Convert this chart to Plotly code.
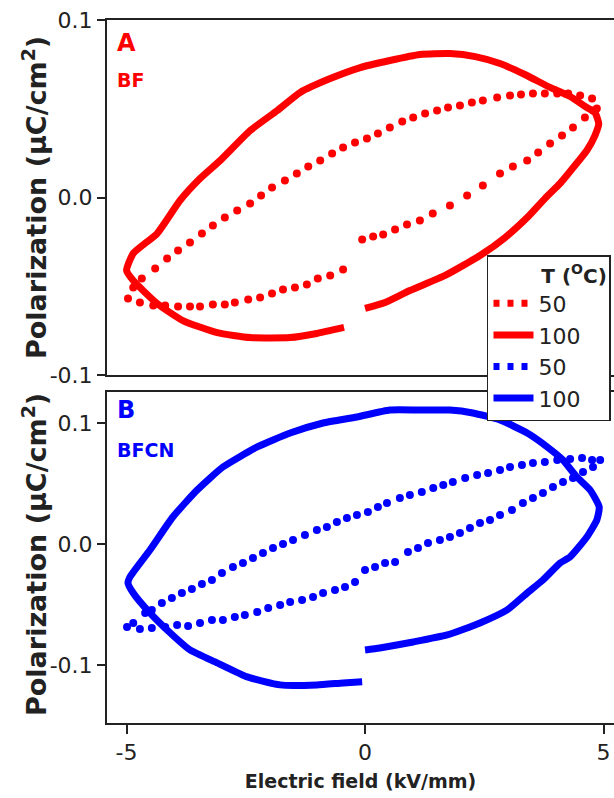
import plotly.graph_objects as go

# ---- BF (panel A) -------------------------------------------------------
bf_100_field = [0.0, 0.42, 0.94, 1.68, 2.41, 2.94, 3.40, 3.77, 4.09, 4.40, 4.65, 4.82, 4.90,
                4.82, 4.65, 4.30, 3.88, 3.35, 2.83, 2.31, 1.78, 1.15, 0.52, -0.10, -0.73,
                -1.36, -1.84, -2.41, -3.04, -3.46, -3.88, -4.36, -4.86, -5.00,
                -4.86, -4.36, -3.82, -3.10, -2.41, -1.57, -1.01, -0.44]
bf_100_pol = [-0.0625, -0.0592, -0.0524, -0.0439, -0.0327, -0.0225, -0.0113, -0.0006, 0.0079,
              0.0180, 0.0265, 0.0349, 0.0417,
              0.0479, 0.0507, 0.0569, 0.0620, 0.0693, 0.0755, 0.0794, 0.0811, 0.0806, 0.0772,
              0.0732, 0.0670, 0.0592, 0.0490, 0.0377, 0.0208, 0.0107, -0.0017, -0.0203,
              -0.0315, -0.0411,
              -0.0468, -0.0597, -0.0693, -0.0761, -0.0789, -0.0789, -0.0766, -0.0732]

bf_50_field = [-0.06, 0.17, 0.38, 0.63, 0.88, 1.15, 1.42, 1.78, 2.14, 2.47, 2.83, 3.10, 3.40,
               3.63, 3.88, 4.13, 4.36, 4.61, 4.78, 4.86, 4.76, 4.51, 4.26, 4.03, 3.77, 3.52,
               3.27, 3.04, 2.77, 2.47, 2.24, 1.99, 1.74, 1.51, 1.26, 1.01, 0.78, 0.52, 0.27,
               0.04, -0.21, -0.46, -0.69, -0.94, -1.19, -1.43, -1.68, -1.95, -2.18, -2.41,
               -2.68, -2.94, -3.19, -3.42, -3.67, -3.92, -4.15, -4.40, -4.68, -4.86, -4.97,
               -4.72, -4.44, -4.19, -3.92, -3.67, -3.46, -3.19, -2.94, -2.73, -2.45, -2.20,
               -1.95, -1.72, -1.47, -1.22, -0.99, -0.73, -0.46]
bf_50_pol = [-0.0237, -0.0220, -0.0208, -0.0180, -0.0152, -0.0130, -0.0090, -0.0045, 0.0011,
             0.0068, 0.0135, 0.0175, 0.0208, 0.0254, 0.0304, 0.0349, 0.0394, 0.0451, 0.0490,
             0.0501, 0.0558, 0.0575, 0.0586, 0.0586, 0.0586, 0.0586, 0.0580, 0.0575, 0.0563,
             0.0546, 0.0535, 0.0518, 0.0507, 0.0490, 0.0473, 0.0451, 0.0428, 0.0394, 0.0361,
             0.0332, 0.0310, 0.0282, 0.0248, 0.0208, 0.0175, 0.0135, 0.0096, 0.0056, 0.0011,
             -0.0034, -0.0073, -0.0113, -0.0158, -0.0203, -0.0254, -0.0299, -0.0344, -0.0400,
             -0.0456, -0.0507, -0.0569,
             -0.0592, -0.0608, -0.0608, -0.0614, -0.0614, -0.0614, -0.0603, -0.0603, -0.0592,
             -0.0575, -0.0563, -0.0541, -0.0518, -0.0507, -0.0490, -0.0456, -0.0439, -0.0406]

# ---- BFCN (panel B) -----------------------------------------------------
bfcn_100_field = [0.0, 0.31, 1.01, 1.72, 2.41, 2.98, 3.40, 3.73, 4.09, 4.30, 4.65, 4.86, 4.91,
                  4.72, 4.44, 4.15, 3.82, 3.40, 2.83, 2.26, 1.78, 1.15, 0.52, -0.17, -0.88,
                  -1.57, -2.26, -2.98, -3.52, -4.03, -4.51, -4.93, -4.97,
                  -4.86, -4.51, -4.15, -3.67, -3.10, -2.47, -1.78, -1.01, -0.46, -0.06]
bfcn_100_pol = [-0.0876, -0.0860, -0.0810, -0.0752, -0.0653, -0.0545, -0.0405, -0.0298, -0.0157,
                -0.0107, 0.0058, 0.0198, 0.0306,
                0.0446, 0.0554, 0.0694, 0.0802, 0.0917, 0.1025, 0.1083, 0.1107, 0.1107, 0.1107,
                0.1050, 0.1000, 0.0917, 0.0802, 0.0636, 0.0446, 0.0223, -0.0050, -0.0273,
                -0.0322,
                -0.0405, -0.0570, -0.0711, -0.0876, -0.0983, -0.1099, -0.1165, -0.1165, -0.1149,
                -0.1140]

bfcn_50_field = [0.0, 0.21, 0.42, 0.63, 0.90, 1.11, 1.32, 1.57, 1.78, 1.99, 2.20, 2.41, 2.62,
                 2.83, 3.08, 3.31, 3.52, 3.73, 3.94, 4.15, 4.36, 4.57, 4.78, 4.93,
                 4.76, 4.55, 4.30, 4.03, 3.77, 3.52, 3.29, 3.04, 2.83, 2.58, 2.35, 2.10, 1.84,
                 1.64, 1.43, 1.19, 0.94, 0.73, 0.46, 0.27, 0.06, -0.17, -0.38, -0.59, -0.80,
                 -1.01, -1.26, -1.51, -1.72, -1.93, -2.14, -2.35, -2.56, -2.77, -3.00, -3.21,
                 -3.42, -3.63, -3.84, -4.05, -4.26, -4.47, -4.61, -4.86, -4.99,
                 -4.72, -4.47, -4.19, -3.94, -3.71, -3.46, -3.21, -2.98, -2.73, -2.52, -2.26,
                 -2.03, -1.78, -1.57, -1.32, -1.09, -0.88, -0.63, -0.42, -0.21]
bfcn_50_pol = [-0.0215, -0.0190, -0.0157, -0.0149, -0.0066, -0.0033, 0.0008, 0.0033, 0.0058,
               0.0091, 0.0132, 0.0174, 0.0198, 0.0240, 0.0281, 0.0339, 0.0380, 0.0421, 0.0471,
               0.0512, 0.0545, 0.0595, 0.0636, 0.0694,
               0.0694, 0.0711, 0.0702, 0.0694, 0.0678, 0.0669, 0.0653, 0.0636, 0.0612, 0.0587,
               0.0570, 0.0545, 0.0512, 0.0488, 0.0463, 0.0430, 0.0405, 0.0380, 0.0339, 0.0306,
               0.0264, 0.0240, 0.0215, 0.0182, 0.0140, 0.0116, 0.0074, 0.0033, 0.0000, -0.0033,
               -0.0074, -0.0116, -0.0157, -0.0190, -0.0240, -0.0298, -0.0331, -0.0372, -0.0405,
               -0.0446, -0.0488, -0.0545, -0.0570, -0.0653, -0.0686,
               -0.0702, -0.0694, -0.0686, -0.0669, -0.0678, -0.0653, -0.0628, -0.0628, -0.0603,
               -0.0587, -0.0562, -0.0529, -0.0504, -0.0479, -0.0463, -0.0438, -0.0405, -0.0380,
               -0.0355, -0.0314]

# ---- axis ticks ---------------------------------------------------------
field_ticks = [-5, 0, 5]
field_ticktext = ["-5", "0", "5"]
pol_ticks = [-0.1, 0.0, 0.1]
pol_ticktext = ["-0.1", "0.0", "0.1"]

RED = "#ff0000"
BLUE = "#0000ff"
INK = "#222222"
FONT = "DejaVu Sans"
TICK_SIZE = 22

fig = go.Figure()

# panel A
fig.add_trace(go.Scatter(x=bf_50_field, y=bf_50_pol, mode="markers",
                         marker=dict(color=RED, size=8), showlegend=False,
                         xaxis="x", yaxis="y"))
fig.add_trace(go.Scatter(x=bf_100_field, y=bf_100_pol, mode="lines",
                         line=dict(color=RED, width=7, shape="spline", smoothing=0.5),
                         showlegend=False, xaxis="x", yaxis="y"))
# panel B
fig.add_trace(go.Scatter(x=bfcn_50_field, y=bfcn_50_pol, mode="markers",
                         marker=dict(color=BLUE, size=8), showlegend=False,
                         xaxis="x2", yaxis="y2"))
fig.add_trace(go.Scatter(x=bfcn_100_field, y=bfcn_100_pol, mode="lines",
                         line=dict(color=BLUE, width=7, shape="spline", smoothing=0.5),
                         showlegend=False, xaxis="x2", yaxis="y2"))

# legend entries (temperature key)
for name, color, dash in [("50", RED, "6px,8px"), ("100", RED, "solid"),
                          ("50", BLUE, "6px,8px"), ("100", BLUE, "solid")]:
    fig.add_trace(go.Scatter(x=[None], y=[None], mode="lines", name=name,
                             line=dict(color=color, width=7, dash=dash),
                             xaxis="x", yaxis="y"))

axis_line = dict(showline=True, linecolor=INK, linewidth=2, showgrid=False, zeroline=False)
x_range = [-5.41, 5.22]

fig.update_layout(
    width=614, height=798,
    margin=dict(l=107, r=0, t=20, b=75, autoexpand=False),
    paper_bgcolor="white", plot_bgcolor="white",
    font=dict(family=FONT, color=INK, size=TICK_SIZE),
    xaxis=dict(domain=[0, 1], range=x_range, anchor="y", mirror=True,
               ticks="", showticklabels=False, **axis_line),
    yaxis=dict(domain=[0.495, 1], range=[-0.1, 0.1], anchor="x",
               tickvals=pol_ticks, ticktext=pol_ticktext, ticks="outside",
               ticklen=8, tickwidth=2, tickcolor=INK,
               automargin=False, **axis_line),
    xaxis2=dict(domain=[0, 1], range=x_range, anchor="y2", mirror=True,
                tickvals=field_ticks, ticktext=field_ticktext, ticks="outside",
                ticklen=9, tickwidth=2, tickcolor=INK,
                title=dict(text="<b>Electric field (kV/mm)</b>",
                           font=dict(family=FONT, size=19, color=INK), standoff=10),
                automargin=False, **axis_line),
    yaxis2=dict(domain=[0, 0.4708], range=[-0.148, 0.1256], anchor="x2",
                tickvals=pol_ticks, ticktext=pol_ticktext, ticks="outside",
                ticklen=8, tickwidth=2, tickcolor=INK,
                automargin=False, **axis_line),
    legend=dict(x=0.7495, y=0.6657, xanchor="left", yanchor="top",
                bgcolor="white", bordercolor=INK, borderwidth=1.5,
                font=dict(family=FONT, size=22, color=INK),
                itemwidth=40, tracegroupgap=0,
                title=dict(text="\u00a0" * 8 + "<b>T (<sup>O</sup>C)</b>",
                           font=dict(family=FONT, size=20, color=INK))),
)
fig.update_xaxes(tickfont=dict(family=FONT, size=TICK_SIZE, color=INK))
fig.update_yaxes(tickfont=dict(family=FONT, size=TICK_SIZE, color=INK))

# text placed by pixel position (x from left, y from top)
plot_left, plot_top = 107, 20
plot_w, plot_h = 614 - 107, 798 - 20 - 75
ytitle = "<b>Polarization (µC/cm<sup>2</sup>)</b>"
labels = [
    ("<b>A</b>", 115, 43, 24, RED),
    ("<b>BF</b>", 115, 80, 19, RED),
    ("<b>B</b>", 115, 410, 24, BLUE),
    ("<b>BFCN</b>", 115, 450, 19, BLUE),
]
for text, px, py, size, color in labels:
    fig.add_annotation(text=text, x=(px - plot_left) / plot_w, y=(plot_top + plot_h - py) / plot_h,
                       xref="paper", yref="paper", showarrow=False, xanchor="left",
                       yanchor="middle", font=dict(family=FONT, size=size, color=color))
for py in (198, 555):
    fig.add_annotation(text=ytitle, x=(34 - plot_left) / plot_w,
                       y=(plot_top + plot_h - py) / plot_h, xref="paper", yref="paper",
                       showarrow=False, textangle=-90, xanchor="center", yanchor="middle",
                       font=dict(family=FONT, size=27, color=INK))

fig.write_html("out.html")
